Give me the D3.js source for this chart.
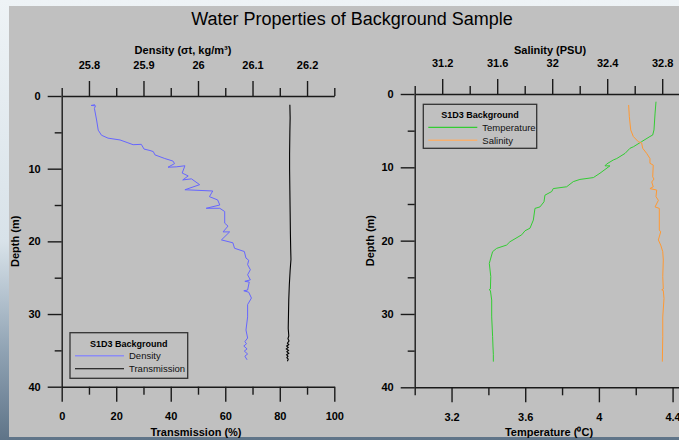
<!DOCTYPE html>
<html><head><meta charset="utf-8">
<script src="https://cdn.jsdelivr.net/npm/d3@7"></script>
<style>body{margin:0;padding:0;overflow:hidden}svg{display:block}</style>
</head><body>
<svg id="c" width="679" height="440"></svg>
<script>
// ---- data ----
const depthTicks = [0, 10, 20, 30, 40];
const depthMinor = [5, 15, 25, 35];
const transTicks = [0, 20, 40, 60, 80, 100];
const transMinor = [10, 30, 50, 70, 90];
const densTicks = [25.8, 25.9, 26.0, 26.1, 26.2];
const densMinor = [25.75, 25.85, 25.95, 26.05, 26.15, 26.25];
const tempTicks = [3.2, 3.6, 4.0, 4.4];
const tempMinor = [3.0, 3.4, 3.8, 4.2];
const salTicks = [31.2, 31.6, 32.0, 32.4, 32.8];
const salMinor = [31.0, 31.4, 31.8, 32.2, 32.6];

// [depth m, density sigma-t]
const density = [[1.2,25.811],[1.3,25.804],[1.35,25.812],[1.7,25.810],[3.3,25.814],[4.7,25.817],[5.4,25.823],[5.8,25.835],[6.05,25.857],[6.4,25.870],[6.7,25.881],[6.65,25.896],[7.3,25.901],[7.5,25.912],[7.65,25.918],[8.1,25.921],[8.6,25.939],[8.95,25.954],[9.3,25.957],[9.8,25.945],[9.75,25.960],[9.6,25.976],[10.6,25.971],[11.0,25.982],[11.55,25.972],[11.4,25.988],[12.2,26.003],[12.9,25.976],[13.07,26.027],[13.85,26.021],[14.3,26.036],[15.0,26.040],[15.45,26.015],[15.45,26.040],[15.9,26.049],[17.5,26.049],[17.9,26.055],[18.7,26.046],[18.7,26.058],[19.8,26.043],[20.2,26.064],[20.95,26.067],[21.4,26.085],[22.3,26.088],[22.6,26.093],[23.2,26.091],[23.9,26.096],[24.6,26.091],[25.3,26.096],[25.5,26.086],[25.6,26.094],[26.7,26.091],[26.8,26.084],[27.0,26.093],[27.8,26.098],[28.7,26.091],[30.4,26.091],[32.2,26.088],[33.3,26.091],[33.8,26.086],[34.1,26.089],[34.4,26.084],[34.8,26.090],[35.1,26.085],[35.5,26.091],[35.8,26.086],[36.3,26.090]];
// [depth m, transmission %]
const transmission = [[1.2,83.7],[3,83.8],[5,83.7],[8,83.6],[10,83.6],[13,83.7],[16,83.8],[19,83.9],[21,84.0],[22.5,84.1],[24,83.8],[26,83.5],[28,83.3],[30,83.2],[32,83.1],[33,83.3],[33.4,83.0],[33.7,83.4],[34.0,82.8],[34.2,83.3],[34.4,82.5],[34.6,83.1],[34.8,82.4],[35.0,83.2],[35.2,82.6],[35.4,83.3],[35.6,82.5],[35.8,83.0],[36.0,82.6],[36.2,83.1],[36.5,82.8]];
// [depth m, temperature °C]
const temperature = [[1.05,4.310],[2.6,4.305],[4.9,4.299],[5.6,4.292],[5.8,4.277],[6.5,4.232],[7.2,4.187],[7.4,4.169],[8.1,4.142],[8.8,4.097],[9.0,4.078],[9.55,4.042],[9.8,4.033],[9.8,4.060],[10.8,4.006],[11.4,3.970],[11.65,3.897],[11.95,3.861],[12.65,3.825],[12.9,3.752],[13.3,3.744],[13.8,3.707],[14.7,3.702],[15.4,3.680],[15.6,3.653],[17.2,3.644],[18.3,3.626],[18.65,3.599],[19.2,3.581],[20.15,3.517],[20.6,3.499],[21.05,3.445],[21.5,3.423],[22.65,3.410],[23.1,3.405],[24.9,3.413],[26.6,3.411],[26.7,3.404],[26.8,3.411],[28.1,3.418],[30.4,3.418],[33.1,3.423],[34.5,3.425],[35.5,3.427],[36.5,3.427]];
// [depth m, salinity PSU]
const salinity = [[1.5,32.556],[3.1,32.561],[4.9,32.571],[5.8,32.590],[6.5,32.626],[6.7,32.651],[7.4,32.658],[8.1,32.687],[8.8,32.711],[9.45,32.711],[9.7,32.735],[11.3,32.731],[11.6,32.740],[12.0,32.724],[12.65,32.735],[12.9,32.711],[13.1,32.760],[14.0,32.755],[14.5,32.772],[15.4,32.748],[15.6,32.779],[18.55,32.779],[18.8,32.789],[19.9,32.772],[20.6,32.789],[21.5,32.804],[22.65,32.808],[24.9,32.804],[26.6,32.808],[26.7,32.797],[26.8,32.808],[27.9,32.813],[30.4,32.804],[33.1,32.804],[36.5,32.801]];

// ---- drawing ----
const svg = d3.select('#c');
const FONT = 'Liberation Sans, Arial, Helvetica, sans-serif';
const defs = svg.append('defs');
const g1 = defs.append('linearGradient').attr('id','bg').attr('x1',0).attr('y1',0).attr('x2',0).attr('y2',1);
g1.append('stop').attr('offset','0%').attr('stop-color','#eef3f6');
g1.append('stop').attr('offset','55%').attr('stop-color','#d8e2e9');
g1.append('stop').attr('offset','80%').attr('stop-color','#8fa2b3');
g1.append('stop').attr('offset','100%').attr('stop-color','#5f7488');
svg.append('rect').attr('width',679).attr('height',440).attr('fill','url(#bg)');
svg.append('rect').attr('x',9).attr('y',6).attr('width',670).attr('height',431).attr('fill','#c0c0c0');

svg.append('text').attr('x',352).attr('y',25).attr('text-anchor','middle')
  .attr('font-family',FONT).attr('font-size',18).attr('fill','#000')
  .text('Water Properties of Background Sample');

function styleAxis(sel){
  sel.select('.domain').attr('stroke','#1a1a1a').attr('stroke-width',1.4);
  sel.selectAll('.tick line').attr('stroke','#1a1a1a').attr('stroke-width',1.4);
  sel.selectAll('.tick text').attr('font-family',FONT).attr('font-size',11).attr('font-weight','bold').attr('fill','#000');
}

function panel(o){
  const {x, xTop, y, top, bottom, left, xTicks, xMinorT, topTicks, topMinor, topFmt, xFmt, topLabel, botLabel, topLabelX, botLabelX, depthX} = o;
  svg.append('g').attr('transform',`translate(0,${top})`)
    .call(d3.axisTop(xTop).tickValues(topMinor).tickSize(8).tickSizeOuter(0).tickFormat(''))
    .call(styleAxis);
  svg.append('g').attr('transform',`translate(0,${top})`)
    .call(d3.axisTop(xTop).tickValues(topTicks).tickSize(15).tickSizeOuter(0).tickFormat(topFmt).tickPadding(12))
    .call(styleAxis).call(s=>s.select('.domain').remove());
  svg.append('g').attr('transform',`translate(0,${bottom})`)
    .call(d3.axisBottom(x).tickValues(xMinorT).tickSize(8).tickSizeOuter(0).tickFormat(''))
    .call(styleAxis);
  svg.append('g').attr('transform',`translate(0,${bottom})`)
    .call(d3.axisBottom(x).tickValues(xTicks).tickSize(15).tickSizeOuter(0).tickFormat(xFmt).tickPadding(11))
    .call(styleAxis).call(s=>s.select('.domain').remove());
  svg.append('g').attr('transform',`translate(${left},0)`)
    .call(d3.axisLeft(y).tickValues(depthMinor).tickSize(7).tickSizeOuter(0).tickFormat(''))
    .call(styleAxis);
  svg.append('g').attr('transform',`translate(${left},0)`)
    .call(d3.axisLeft(y).tickValues(depthTicks).tickSize(14).tickSizeOuter(0).tickFormat(d3.format('d')).tickPadding(7))
    .call(styleAxis).call(s=>s.select('.domain').remove());
  svg.append('text').attr('x',topLabelX).attr('y',54).attr('text-anchor','middle')
    .attr('font-family',FONT).attr('font-size',11).attr('font-weight','bold').text(topLabel);
  svg.append('text').attr('x',botLabelX).attr('y',436).attr('text-anchor','middle')
    .attr('font-family',FONT).attr('font-size',11).attr('font-weight','bold').text(botLabel);
  svg.append('text').attr('transform',`translate(${depthX},${y(20)}) rotate(-90)`).attr('text-anchor','middle')
    .attr('font-family',FONT).attr('font-size',11).attr('font-weight','bold').text('Depth (m)');
}

function legend(x0, y0, w, h, items){
  const g = svg.append('g');
  g.append('rect').attr('x',x0).attr('y',y0).attr('width',w).attr('height',h)
    .attr('fill','none').attr('stroke','#333').attr('stroke-width',1.3);
  g.append('text').attr('x',x0 + w/2).attr('y',y0 + 14).attr('text-anchor','middle')
    .attr('font-family',FONT).attr('font-size',9).attr('font-weight','bold').text('S1D3 Background');
  items.forEach((it,i)=>{
    const yy = y0 + 23 + i*13;
    g.append('line').attr('x1',x0+5).attr('x2',x0+54).attr('y1',yy).attr('y2',yy)
      .attr('stroke',it.color).attr('stroke-width',it.w||1.2);
    g.append('text').attr('x',x0+59).attr('y',yy+3.5).attr('font-family',FONT).attr('font-size',9.5)
      .attr('fill','#111').text(it.name);
  });
}

// left panel
const xT = d3.scaleLinear().domain([0,100]).range([61.7,334.3]);
const xD = d3.scaleLinear().domain([25.75,26.25]).range([61.7,334.3]);
const yL = d3.scaleLinear().domain([0,40]).range([96,386.7]);
panel({x:xT, xTop:xD, y:yL, top:96, bottom:386.7, left:61.7,
  xTicks:transTicks, xMinorT:transMinor, topTicks:densTicks, topMinor:densMinor,
  topFmt:d=>d3.format('')(+d.toFixed(2)), xFmt:d3.format('d'),
  topLabel:'Density (\u03c3t, kg/m\u00b3)', botLabel:'Transmission (%)',
  topLabelX:183, botLabelX:196, depthX:19});

const lineL = (xs)=>d3.line().x(d=>xs(d[1])).y(d=>yL(d[0]));
svg.append('path').datum(density).attr('d',lineL(xD)).attr('fill','none').attr('stroke','#6666ff').attr('stroke-width',1);
svg.append('path').datum(transmission).attr('d',lineL(xT)).attr('fill','none').attr('stroke','#000').attr('stroke-width',1.1);
legend(70, 332.7, 117.7, 45.6, [{name:'Density',color:'#8c8cf5',w:1.6},{name:'Transmission',color:'#000',w:1.1}]);

// right panel
const xTemp = d3.scaleLinear().domain([3.0,4.5]).range([414.7,414.7+1.5*184.2]);
const xSal = d3.scaleLinear().domain([31.0,33.0]).range([414.7,414.7+2*137.5]);
const yR = d3.scaleLinear().domain([0,40]).range([94,387.3]);
panel({x:xTemp, xTop:xSal, y:yR, top:94, bottom:387.3, left:414.7,
  xTicks:tempTicks, xMinorT:tempMinor, topTicks:salTicks, topMinor:salMinor,
  topFmt:d=>d3.format('')(+d.toFixed(1)), xFmt:d=>d3.format('')(+d.toFixed(1)),
  topLabel:'Salinity (PSU)', botLabel:'Temperature (\u2070C)',
  topLabelX:550, botLabelX:549, depthX:374});

const lineR = (xs)=>d3.line().x(d=>xs(d[1])).y(d=>yR(d[0]));
svg.append('path').datum(temperature).attr('d',lineR(xTemp)).attr('fill','none').attr('stroke','#33cc33').attr('stroke-width',1);
svg.append('path').datum(salinity).attr('d',lineR(xSal)).attr('fill','none').attr('stroke','#ff9933').attr('stroke-width',1);
legend(423.3, 104.3, 113.4, 44, [{name:'Temperature',color:'#33cc33',w:1.2},{name:'Salinity',color:'#f5b070',w:1.6}]);
</script>
</body></html>
